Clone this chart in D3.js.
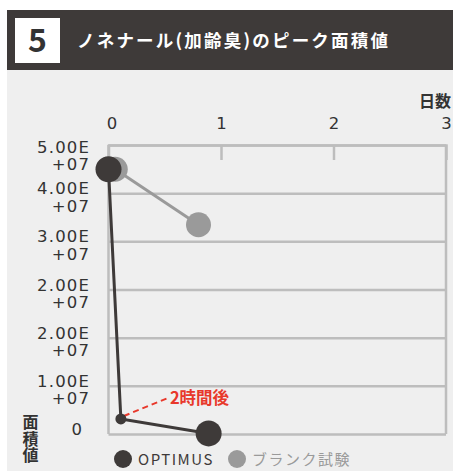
<!DOCTYPE html>
<html>
<head>
<meta charset="utf-8">
<script src="https://cdn.jsdelivr.net/npm/d3@7"></script>
<style>
  body { margin: 0; background: #fff; }
  svg { font-family: "Noto Sans CJK JP", "Noto Sans", sans-serif; }
</style>
</head>
<body>
<svg width="453" height="471"></svg>
<script>
// data
var panelNumber = "5";
var panelTitle = "ノネナール(加齢臭)のピーク面積値";
var xTickValues = [0, 1, 2, 3];
var yTickLabels = ["0", "1.00E+07", "2.00E+07", "2.00E+07", "3.00E+07", "4.00E+07", "5.00E+07"];
var seriesNames = ["OPTIMUS", "ブランク試験"];
var optimusDays = [0, 0.11, 0.89];
var optimusArea = [4.58e7, 2.6e6, 1e5];
var blankDays = [0.06, 0.80];
var blankArea = [4.58e7, 3.62e7];
var noteText = "2時間後";

var svg = d3.select("svg");
var dark = "#3e3a39", grey = "#9a9a9a", gridCol = "#bdbdbd", red = "#e8382b";
var numFont = "'DejaVu Sans', sans-serif";

// background + header
svg.append("rect").attr("x", 7).attr("y", 70).attr("width", 446).attr("height", 401).attr("fill", "#efefef");
svg.append("rect").attr("x", 7).attr("y", 10).attr("width", 446).attr("height", 60).attr("fill", dark);
svg.append("rect").attr("x", 15).attr("y", 18).attr("width", 45).attr("height", 45).attr("fill", "#fff");
svg.append("text").attr("x", 37.5).attr("y", 51.5).attr("text-anchor", "middle")
    .attr("font-size", 32).attr("font-weight", 700).attr("fill", "#333").text(panelNumber);
svg.append("text").attr("x", 77).attr("y", 47).attr("font-size", 17.5).attr("font-weight", 700)
    .attr("letter-spacing", 2.2).attr("fill", "#fff").text(panelTitle);

var x = d3.scaleLinear().domain([0, 3]).range([108.5, 446]),
    y = d3.scaleLinear().domain([0, 5e7]).range([434, 145]);

var yTickValues = d3.range(yTickLabels.length).map(function(i) { return i * 5e7 / 6; });

// horizontal grid via left axis
var gy = svg.append("g")
    .attr("transform", "translate(" + x(0) + ",0)")
    .call(d3.axisLeft(y).tickValues(yTickValues).tickSize(-(x(3) - x(0))).tickFormat(""));
gy.select(".domain").remove();
gy.selectAll(".tick line").attr("stroke", gridCol).attr("stroke-width", 2.5);

// frame sides
svg.append("line").attr("x1", x(0)).attr("x2", x(0)).attr("y1", y(5e7)).attr("y2", y(0))
    .attr("stroke", gridCol).attr("stroke-width", 2.5);
svg.append("line").attr("x1", x(3)).attr("x2", x(3)).attr("y1", y(5e7)).attr("y2", y(0))
    .attr("stroke", gridCol).attr("stroke-width", 2.5);

// y labels, mantissa over exponent
yTickValues.forEach(function(v, i) {
  var lab = yTickLabels[i];
  var off = i === yTickValues.length - 1 ? 1 : -5.5;
  if (lab.indexOf("E") < 0) {
    svg.append("text").attr("x", 82).attr("y", y(v) + off + 6.5).attr("text-anchor", "end")
        .style("font-family", numFont).attr("font-size", 16.5).attr("fill", "#333").text(lab);
    return;
  }
  var parts = lab.split("E");
  var t = svg.append("text").attr("text-anchor", "end").style("font-family", numFont)
      .attr("font-size", 16.5).attr("letter-spacing", 1.2).attr("fill", "#333");
  t.append("tspan").attr("x", 90.2).attr("y", y(v) + off + 6.5).text(parts[0] + "E");
  t.append("tspan").attr("x", 90.2).attr("y", y(v) + off + 24).text(parts[1]);
});

// top axis with day labels
var gx = svg.append("g")
    .attr("transform", "translate(0," + y(5e7) + ")")
    .call(d3.axisTop(x).tickValues(xTickValues).tickSize(-15).tickPadding(16).tickFormat(d3.format("d")));
gx.select(".domain").attr("stroke", gridCol).attr("stroke-width", 2.5);
gx.selectAll(".tick line").attr("stroke", gridCol).attr("stroke-width", 2.5)
    .attr("opacity", function(d) { return d === 0 || d === 3 ? 0 : 1; });
gx.selectAll(".tick text").attr("font-size", 16.5).attr("fill", "#333")
    .style("font-family", numFont)
    .attr("dx", function(d) { return d === 0 ? 3 : 0; });

svg.append("text").attr("x", 451).attr("y", 107).attr("text-anchor", "end")
    .attr("font-size", 16).attr("font-weight", 700).attr("fill", "#333").text("日数");

// y axis title, written vertically
svg.append("text").attr("x", 30.5).attr("y", 414)
    .style("writing-mode", "vertical-rl")
    .attr("font-size", 16).attr("font-weight", 700).attr("letter-spacing", 0.5)
    .attr("fill", "#333").text("面積値");

var line = d3.line()
    .x(function(d) { return x(d[0]); })
    .y(function(d) { return y(d[1]); });

var blank = blankDays.map(function(d, i) { return [d, blankArea[i]]; });
var optimus = optimusDays.map(function(d, i) { return [d, optimusArea[i]]; });

// blank series (behind)
svg.append("path").attr("d", line(blank)).attr("fill", "none").attr("stroke", grey).attr("stroke-width", 3);
svg.selectAll(".blank").data(blank).enter().append("circle")
    .attr("cx", function(d) { return x(d[0]); })
    .attr("cy", function(d) { return y(d[1]); })
    .attr("r", 12.5).attr("fill", grey);

// annotation
var np = optimus[1];
svg.append("line").attr("x1", x(np[0]) + 3).attr("y1", y(np[1]) - 3)
    .attr("x2", x(np[0]) + 47).attr("y2", y(np[1]) - 21)
    .attr("stroke", red).attr("stroke-width", 2).attr("stroke-dasharray", "6,4");
svg.append("text").attr("x", x(np[0]) + 49).attr("y", y(np[1]) - 15)
    .attr("font-size", 16.5).attr("font-weight", 700).attr("fill", red).text(noteText);

// optimus series
svg.append("path").attr("d", line(optimus)).attr("fill", "none").attr("stroke", dark).attr("stroke-width", 3);
svg.selectAll(".opt").data(optimus).enter().append("circle")
    .attr("cx", function(d) { return x(d[0]); })
    .attr("cy", function(d) { return y(d[1]); })
    .attr("r", function(d, i) { return i === 1 ? 5.5 : 13; })
    .attr("fill", dark);

// legend
var legend = [{x: 123, c: dark}, {x: 237, c: grey}];
legend.forEach(function(l, i) {
  svg.append("circle").attr("cx", l.x).attr("cy", 459).attr("r", 9).attr("fill", l.c);
  svg.append("text").attr("x", l.x + 15).attr("y", 465).attr("font-size", 15)
      .attr("letter-spacing", 1.5).attr("fill", l.c).text(seriesNames[i]);
});
</script>
</body>
</html>
